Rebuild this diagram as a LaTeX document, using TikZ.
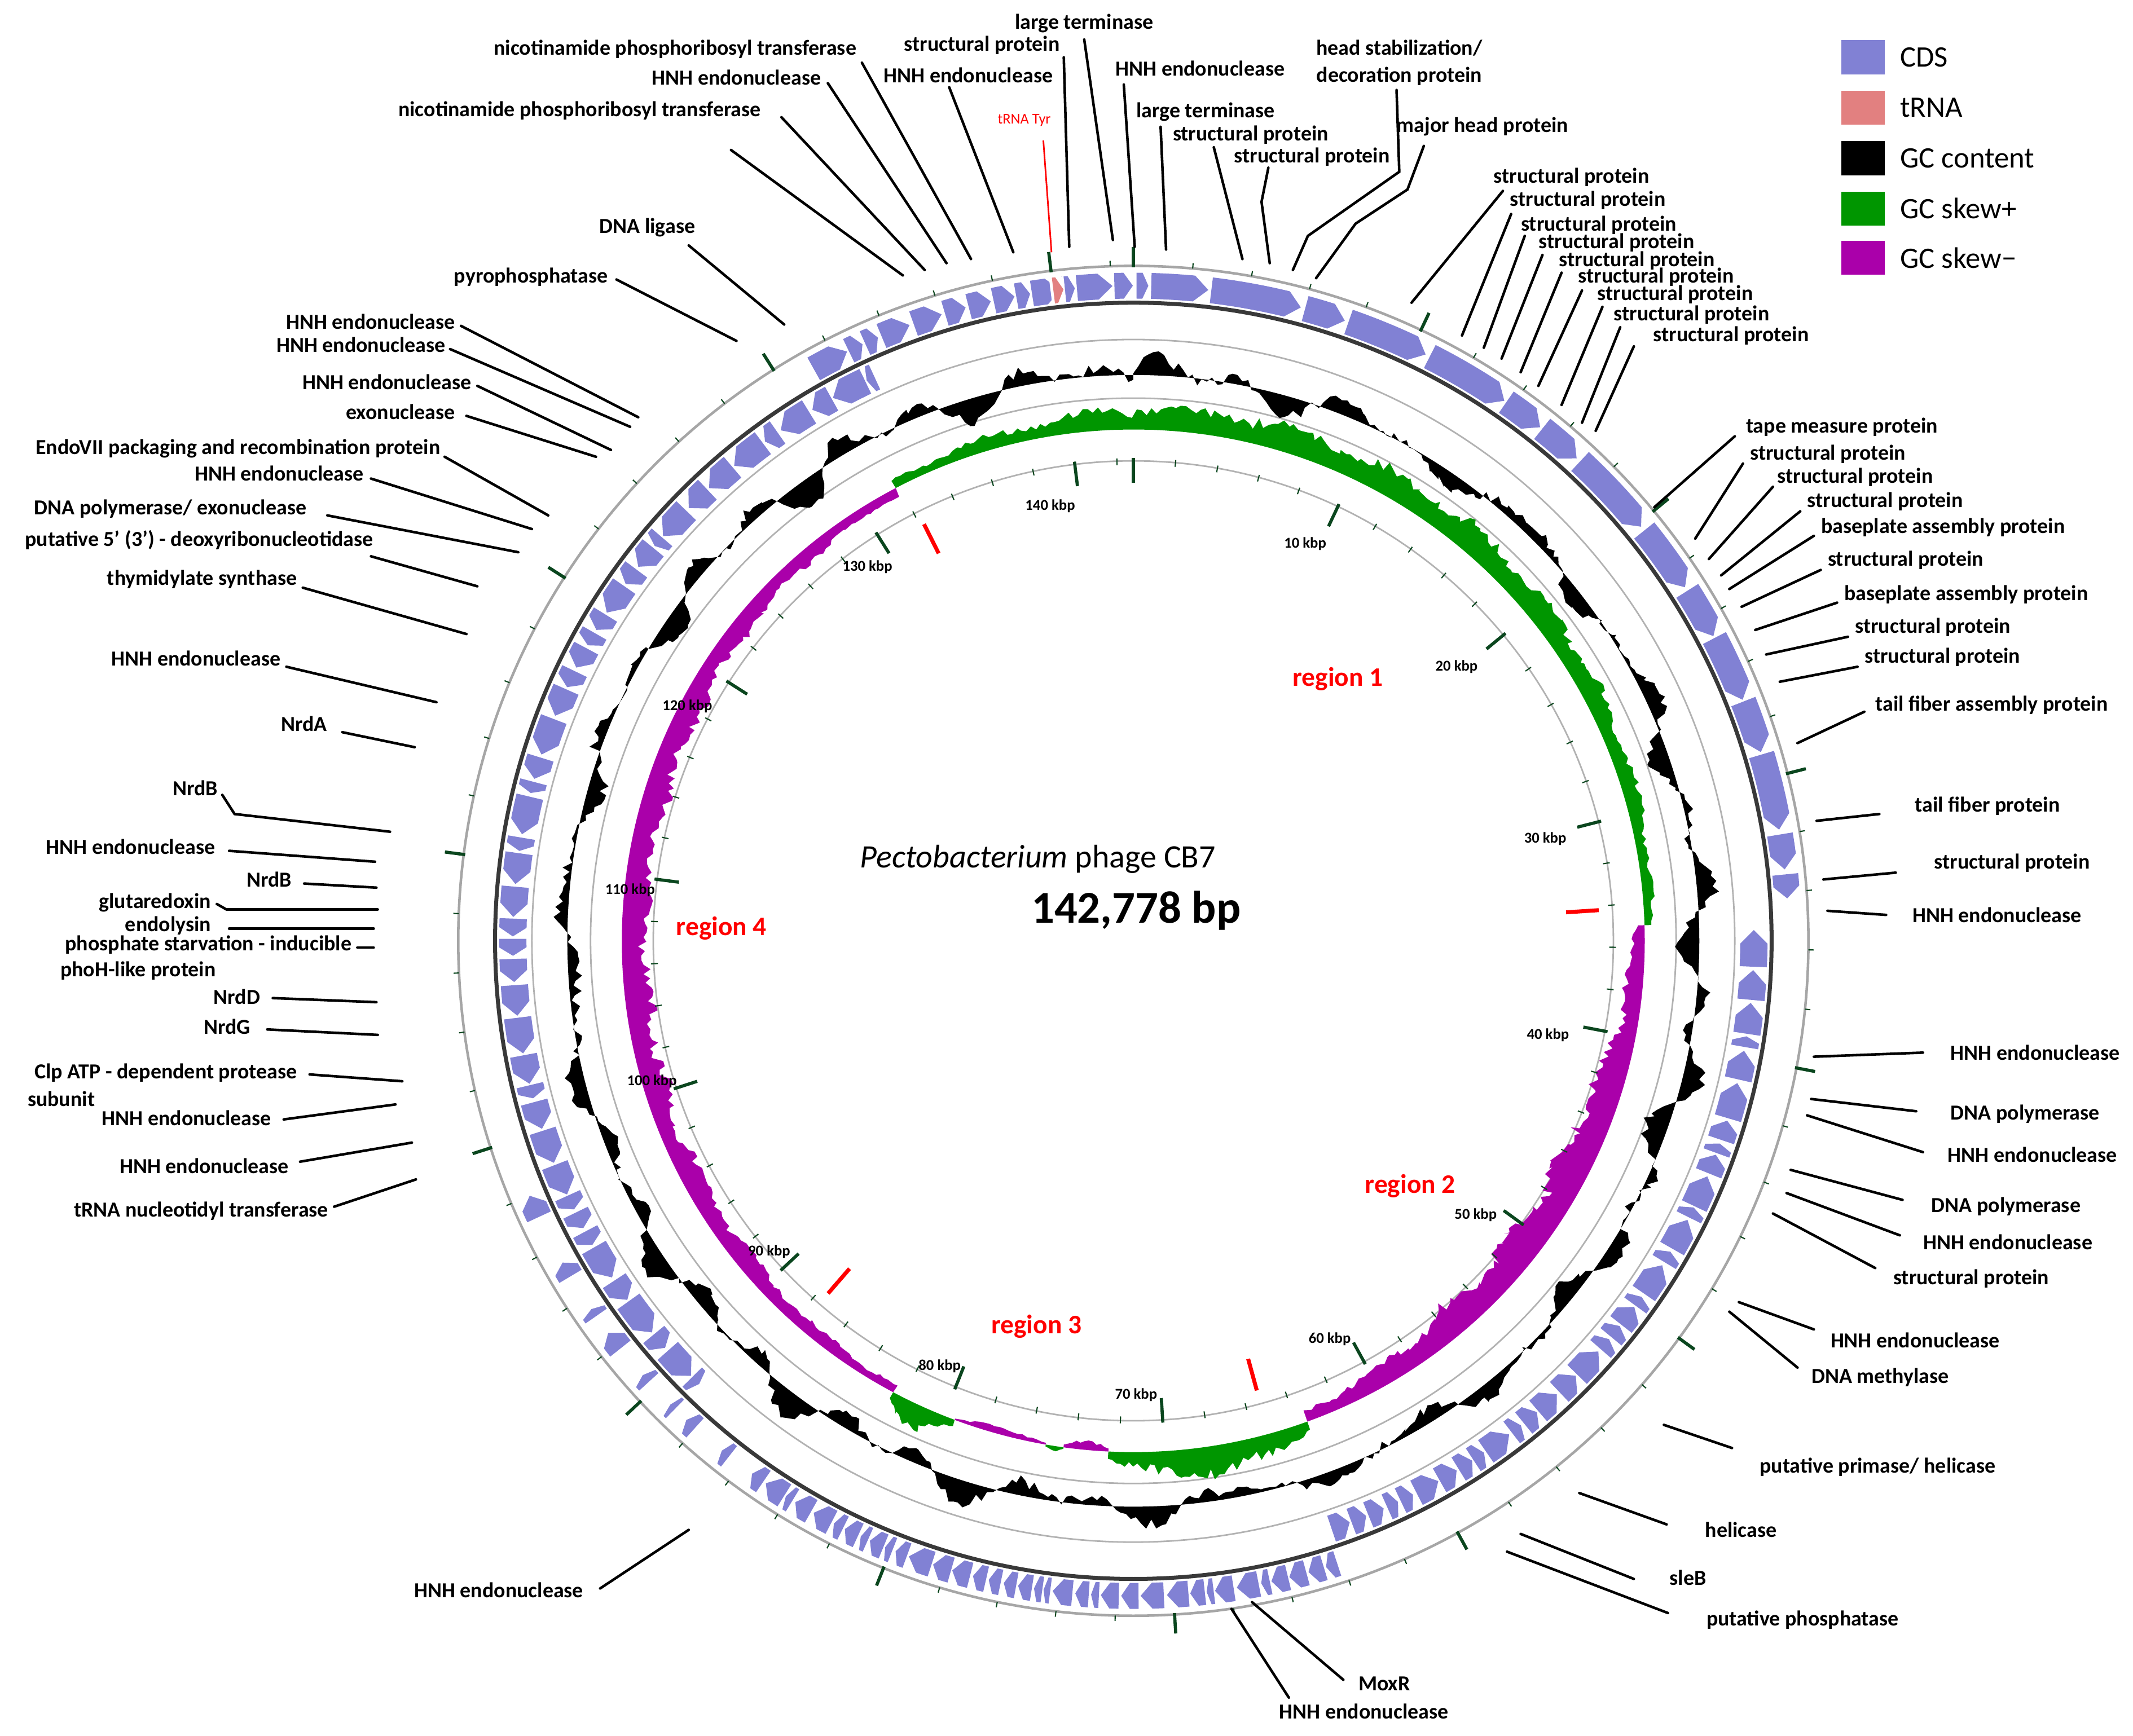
\documentclass[tikz,border=0pt]{standalone}
\usepackage{fontspec}
\setmainfont{Carlito}
\definecolor{cds}{RGB}{129,129,212}
\definecolor{trna}{RGB}{226,128,128}
\definecolor{skp}{RGB}{0,150,0}
\definecolor{skm}{RGB}{170,0,170}
\definecolor{tickg}{RGB}{10,70,30}
\newcommand\zzgene[3]{%
 \pgfmathsetmacro\zza{90-(#1)*2.521397}%
 \pgfmathsetmacro\zzb{90-(#2)*2.521397}%
 \pgfmathsetmacro\zzh{min(0.5,((#2)-(#1))*0.5)*2.521397}%
 \ifnum#3=1
  \pgfmathsetmacro\zzn{\zzb+\zzh}%
  \fill[cds] (\zza:490) arc[start angle=\zza,end angle=\zzn,radius=490] -- (\zzb:480.5) -- (\zzn:471) arc[start angle=\zzn,end angle=\zza,radius=471] -- cycle;
 \else
  \pgfmathsetmacro\zzn{\zza-\zzh}%
  \fill[cds] (\zzb:465) arc[start angle=\zzb,end angle=\zzn,radius=465] -- (\zza:455) -- (\zzn:445) arc[start angle=\zzn,end angle=\zzb,radius=445] -- cycle;
 \fi}
\newcommand\zzgenes[5]{%
 \xdef\zzpos{#1}%
 \loop
  \pgfmathsetmacro\zzlen{#4*(0.4+1.2*rnd)}%
  \pgfmathsetmacro\zzend{min(\zzpos+\zzlen,#2)}%
  \zzgene{\zzpos}{\zzend}{#3}%
  \pgfmathsetmacro\zznx{\zzend+#5*(0.5+rnd)}%
  \xdef\zzpos{\zznx}%
  \pgfmathtruncatemacro\zzcnt{\zzpos<(#2)-0.15}%
 \ifnum\zzcnt=1 \repeat}
\newcommand\zzskew[6]{%
 \fill[#1] plot[domain=#2:#3,samples=#6,variable=\k] ({90-\k*2.521397}:{375+#4*#5*(0.3+0.7*sin(180*(\k-#2)/(#3-#2)))*(0.6+0.4*rnd+0.12*sin(80*\k))}) -- ({90-#3*2.521397}:375) arc[start angle={90-#3*2.521397},end angle={90-#2*2.521397},radius=375] -- cycle;}
\newcommand\lb[6]{%
 \node[lab,anchor=#2] (#1) at (#3) {#4};
 \coordinate (#1s) at (#5); \coordinate (#1e) at (#6);
 \draw[lead] (#1s) -- (#1e);}
\begin{document}
\begin{tikzpicture}[x=0.02418cm,y=-0.02418cm,
 lab/.style={font=\fontsize{10.8}{13.5}\selectfont\bfseries,inner sep=0pt},
 lead/.style={line width=1.3pt,line cap=round},
 kb/.style={font=\fontsize{7.6}{9}\selectfont\bfseries,inner sep=0pt},
 reg/.style={font=\fontsize{13.5}{15}\selectfont\bfseries,text=red,inner sep=0pt},
 leg/.style={font=\fontsize{15}{17}\selectfont,anchor=west,inner sep=0pt}]
\useasboundingbox (0,0) rectangle (1564,1273);
\pgfmathsetseed{7}
\begin{scope}[shift={(831,690)},yscale=-1]
 % rings
 \draw[gray!70,line width=1.3pt] (0,0) circle[radius=495];
 \draw[gray!60,line width=0.8pt] (0,0) circle[radius=441];
 \draw[gray!60,line width=0.8pt] (0,0) circle[radius=398];
 \draw[gray!60,line width=0.8pt] (0,0) circle[radius=352];
 % CDS
 \zzgenes{131.2}{143.3}{1}{0.9}{0.1}
 \zzgenes{143.4}{177.0}{1}{2.0}{0.12}
 \zzgenes{35.3}{64.0}{-1}{0.9}{0.1}
 \zzgenes{64.2}{85.5}{1}{0.55}{0.08}
 \zzgenes{86.5}{95.5}{1}{0.5}{0.9}
 \zzgene{97.2}{98.0}{1}
 \zzgenes{89.0}{133.0}{-1}{0.9}{0.1}
 \pgfmathsetmacro\ta{90-139.9*2.521397}
 \pgfmathsetmacro\tb{90-140.4*2.521397}
 \fill[white] (\ta:471) arc[start angle=\ta,end angle=\tb,radius=471] -- (\tb:490) arc[start angle=\tb,end angle=\ta,radius=490] -- cycle;
 \pgfmathsetmacro\ta{90-140.0*2.521397}
 \pgfmathsetmacro\tb{90-140.35*2.521397}
 \pgfmathsetmacro\tn{\tb+0.6}
 \fill[trna] (\ta:490) arc[start angle=\ta,end angle=\tn,radius=490] -- (\tb:480.5) -- (\tn:471) arc[start angle=\tn,end angle=\ta,radius=471] -- cycle;
 \draw[gray!45!black,line width=2pt] (0,0) circle[radius=468];
 % GC content
 \fill[black] plot[domain=0:142.778,samples=720,variable=\k] ({90-\k*2.521397}:{415+8*sin(47*\k)+6*sin(97*\k+40)+4*sin(89*\k)+8*rnd-4}) -- (-270:415) arc[start angle=-270,end angle=90,radius=415] -- cycle;
 % GC skew
 \zzskew{skp}{131.8}{177.78}{1}{22}{220}
 \zzskew{skm}{35.0}{63.5}{-1}{30}{140}
 \zzskew{skp}{63.5}{72.5}{1}{24}{50}
 \zzskew{skm}{72.5}{74.5}{-1}{7}{12}
 \zzskew{skp}{74.5}{75.3}{1}{5}{6}
 \zzskew{skm}{75.3}{79.5}{-1}{6}{20}
 \zzskew{skp}{79.5}{82.5}{1}{20}{20}
 \zzskew{skm}{82.5}{131.8}{-1}{22}{230}
 % ticks
 \foreach \i in {0,2,...,142} {
  \draw[tickg,line width=0.6pt] ({90-\i*2.521397}:349) -- ({90-\i*2.521397}:354);
  \draw[tickg,line width=0.6pt] ({90-\i*2.521397}:495) -- ({90-\i*2.521397}:499);}
 \foreach \i in {0,10,...,140} {
  \draw[tickg,line width=1.6pt] ({90-\i*2.521397}:336) -- ({90-\i*2.521397}:354);
  \draw[tickg,line width=1.6pt] ({90-\i*2.521397}:494) -- ({90-\i*2.521397}:509);}
 \foreach \i in {132.2,34.2,87.6,65.3}
  \draw[red,line width=2pt] ({90-\i*2.521397}:318) -- ({90-\i*2.521397}:342);
\end{scope}
% kbp labels
\foreach \t/\x/\y in {10/957/399,20/1068/489,30/1133/615,40/1135/759,50/1082/891,60/975/982,70/833/1023,80/689/1002,90/564/918,100/478/793,110/462/653,120/504/518,130/636/416,140/770/371}
 \node[kb] (kb\t) at (\x,\y) {\t\ kbp};
% regions
\node[reg] (r1) at (981,498) {region 1};
\node[reg] (r2) at (1034,870) {region 2};
\node[reg] (r3) at (760,973) {region 3};
\node[reg] (r4) at (529,681) {region 4};
% title
\node[font=\fontsize{16.5}{20}\selectfont,inner sep=0pt] (t1) at (761,630) {\textit{Pectobacterium} phage CB7};
\node[font=\fontsize{23}{26}\selectfont\bfseries,inner sep=0pt] (t2) at (833,668) {142,778 bp};
% legend
\foreach \n/\c/\y/\t in {a/cds/42/CDS,b/trna/79/tRNA,c/black/116/GC content,d/skp/153/GC skew+,e/skm/189/GC skew−}{
 \node[fill=\c,minimum width=32*0.02418cm,minimum height=25*0.02418cm,inner sep=0pt] (g\n) at (1366,\y) {};
 \node[leg] (h\n) at (1393,\y) {\t};}
% top labels
\lb{n1}{center}{495,36}{nicotinamide phosphoribosyl transferase}{632,46}{712,190}
\lb{n2}{center}{540,57}{HNH endonuclease}{607,61}{694,193}
\lb{n3}{center}{425,81}{nicotinamide phosphoribosyl transferase}{573,86}{678,198}
\coordinate (x1s) at (536,110); \coordinate (x1e) at (662,202); \draw[lead] (x1s) -- (x1e);
\lb{n4}{center}{720,33}{structural protein}{780,42}{784,181}
\lb{n5}{center}{710,55}{HNH endonuclease}{696,64}{743,185}
\lb{n6}{center}{795,17}{large terminase}{795,29}{816,176}
\lb{n7}{center}{880,50}{HNH endonuclease}{824,62}{832,181}
\lb{n8}{center}{884,82}{large terminase}{851,93}{855,183}
\lb{n9}{center}{917,99}{structural protein}{890,108}{911,190}
\node[lab] (n10) at (962,115) {structural protein};
\coordinate (n10s) at (930,123); \coordinate (n10m) at (925,148); \coordinate (n10e) at (931,193);
\draw[lead] (n10s) -- (n10m) -- (n10e);
\node[lab,align=center] (n11) at (1026,46) {head stabilization/\\decoration protein};
\coordinate (n11s) at (1024,66); \coordinate (n11m) at (1026,126); \coordinate (n11n) at (959,173); \coordinate (n11e) at (948,198);
\draw[lead] (n11s) -- (n11m) -- (n11n) -- (n11e);
\node[lab] (n12) at (1087,93) {major head protein};
\coordinate (n12s) at (1044,107); \coordinate (n12m) at (1032,139); \coordinate (n12n) at (994,164); \coordinate (n12e) at (965,204);
\draw[lead] (n12s) -- (n12m) -- (n12n) -- (n12e);
\node[lab,text=red,font=\fontsize{7.5}{8}\selectfont] (trl) at (751,88) {tRNA Tyr};
\coordinate (trs) at (765,103); \coordinate (tre) at (771,185);
\draw[red,line width=0.8pt] (trs) -- (tre);
% right top group
\lb{s1}{west}{1095,130}{structural protein}{1102,140}{1035,222}
\lb{s2}{west}{1107,147}{structural protein}{1108,157}{1072,246}
\lb{s3}{west}{1115,165}{structural protein}{1118,173}{1088,255}
\lb{s4}{west}{1128,178}{structural protein}{1131,187}{1101,263}
\lb{s5}{west}{1143,191}{structural protein}{1145,200}{1115,273}
\lb{s6}{west}{1157,203}{structural protein}{1160,213}{1128,283}
\lb{s7}{west}{1171,216}{structural protein}{1175,225}{1145,297}
\lb{s8}{west}{1183,231}{structural protein}{1188,240}{1160,310}
\lb{s9}{west}{1212,246}{structural protein}{1198,254}{1170,316}
% right side
\lb{p1}{west}{1280,313}{tape measure protein}{1272,320}{1213,372}
\lb{p2}{west}{1283,333}{structural protein}{1278,340}{1243,395}
\lb{p3}{west}{1303,350}{structural protein}{1300,357}{1253,410}
\lb{p4}{west}{1325,368}{structural protein}{1320,375}{1262,422}
\lb{p5}{west}{1335,387}{baseplate assembly protein}{1330,393}{1268,432}
\lb{p6}{west}{1340,411}{structural protein}{1335,418}{1277,445}
\lb{p7}{west}{1352,436}{baseplate assembly protein}{1347,442}{1287,462}
\lb{p8}{west}{1360,460}{structural protein}{1355,467}{1295,480}
\lb{p9}{west}{1367,482}{structural protein}{1362,489}{1305,500}
\lb{p10}{west}{1375,517}{tail fiber assembly protein}{1367,522}{1318,545}
\lb{p11}{west}{1404,591}{tail fiber protein}{1378,597}{1332,602}
\lb{p12}{west}{1418,633}{structural protein}{1390,640}{1337,645}
\lb{p13}{west}{1402,671}{HNH endonuclease}{1383,671}{1340,668}
\lb{p14}{west}{1430,772}{HNH endonuclease}{1410,772}{1330,775}
\lb{p15}{west}{1430,817}{DNA polymerase}{1405,815}{1328,806}
\lb{p16}{west}{1428,847}{HNH endonuclease}{1410,845}{1325,818}
\lb{p17}{west}{1416,885}{DNA polymerase}{1395,880}{1313,858}
\lb{p18}{west}{1410,911}{HNH endonuclease}{1393,906}{1310,875}
\lb{p19}{west}{1388,938}{structural protein}{1375,930}{1300,890}
\lb{p20}{west}{1342,983}{HNH endonuclease}{1330,975}{1275,955}
\lb{p21}{west}{1328,1010}{DNA methylase}{1318,1003}{1268,962}
\lb{p22}{west}{1290,1076}{putative primase/ helicase}{1270,1062}{1220,1045}
\lb{p23}{west}{1250,1122}{helicase}{1222,1118}{1158,1095}
\lb{p24}{west}{1224,1157}{sleB}{1198,1158}{1115,1125}
\lb{p25}{west}{1251,1188}{putative phosphatase}{1223,1183}{1105,1138}
\lb{p26}{center}{1015,1235}{MoxR}{985,1232}{918,1175}
\lb{p27}{center}{1000,1255}{HNH endonuclease}{945,1245}{903,1180}
\lb{p28}{east}{428,1166}{HNH endonuclease}{440,1165}{505,1122}
% left side
\lb{q1}{east}{510,167}{DNA ligase}{505,180}{575,238}
\lb{q2}{east}{446,203}{pyrophosphatase}{452,205}{540,250}
\lb{q3}{east}{334,236}{HNH endonuclease}{338,239}{468,306}
\lb{q4}{east}{327,253}{HNH endonuclease}{330,256}{462,313}
\lb{q5}{east}{346,280}{HNH endonuclease}{350,283}{448,330}
\lb{q6}{east}{334,302}{exonuclease}{342,305}{437,335}
\lb{q7}{east}{323,329}{EndoVII packaging and recombination protein}{326,335}{402,378}
\lb{q8}{east}{267,347}{HNH endonuclease}{272,351}{390,388}
\lb{q9}{east}{225,373}{DNA polymerase/ exonuclease}{240,378}{380,405}
\lb{q10}{east}{274,396}{putative 5' (3') - deoxyribonucleotidase}{272,408}{350,430}
\lb{q11}{east}{218,425}{thymidylate synthase}{222,431}{342,465}
\lb{q12}{east}{206,483}{HNH endonuclease}{210,489}{320,515}
\lb{q13}{east}{240,531}{NrdA}{251,537}{304,548}
\node[lab,anchor=east] (q14) at (160,578) {NrdB};
\coordinate (q14s) at (163,583); \coordinate (q14m) at (172,597); \coordinate (q14e) at (286,610);
\draw[lead] (q14s) -- (q14m) -- (q14e);
\lb{q15}{east}{158,621}{HNH endonuclease}{168,624}{275,632}
\lb{q16}{east}{214,645}{NrdB}{223,648}{276,651}
\node[lab,anchor=east] (q17) at (155,662) {glutaredoxin};
\coordinate (q17s) at (159,663); \coordinate (q17m) at (166,667); \coordinate (q17e) at (277,667);
\draw[lead] (q17s) -- (q17m) -- (q17e);
\lb{q18}{east}{155,679}{endolysin}{168,681}{274,681}
\lb{q19}{east}{258,693}{phosphate starvation - inducible}{262,695}{274,695}
\node[lab,anchor=west] (q19b) at (44,712) {phoH-like protein};
\lb{q20}{east}{191,731}{NrdD}{200,732}{276,735}
\lb{q21}{east}{184,753}{NrdG}{196,755}{277,759}
\lb{q22}{east}{218,787}{Clp ATP - dependent protease}{227,788}{295,793}
\node[lab,anchor=west] (q22b) at (20,806) {subunit};
\lb{q23}{east}{199,820}{HNH endonuclease}{208,821}{290,810}
\lb{q24}{east}{212,855}{HNH endonuclease}{220,852}{302,838}
\lb{q25}{east}{241,888}{tRNA nucleotidyl transferase}{245,885}{305,865}
\end{tikzpicture}
\end{document}
